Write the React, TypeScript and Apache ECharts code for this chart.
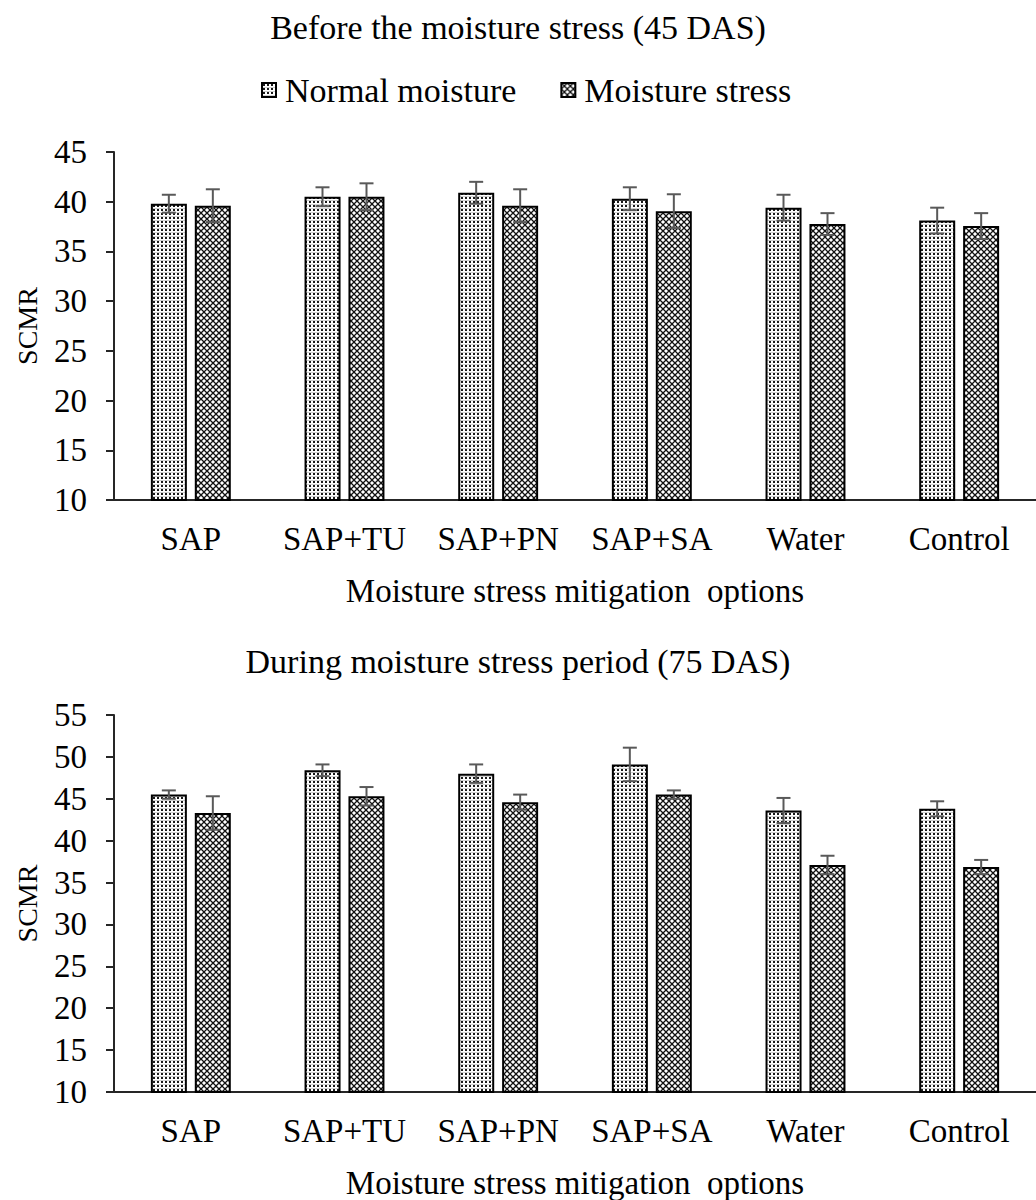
import React, { useEffect, useRef } from "react";
import * as echarts from "echarts";

const categories = ["SAP", "SAP+TU", "SAP+PN", "SAP+SA", "Water", "Control"];
const seriesNames = ["Normal moisture", "Moisture stress"];

const topNormal = [39.8, 40.5, 40.9, 40.3, 39.4, 38.1];
const topNormalErr = [0.9, 0.95, 1.1, 1.15, 1.3, 1.3];
const topStress = [39.6, 40.5, 39.6, 39.05, 37.75, 37.55];
const topStressErr = [1.65, 1.35, 1.65, 1.7, 1.1, 1.3];

const botNormal = [45.5, 48.4, 48.0, 49.1, 43.6, 43.8];
const botNormalErr = [0.5, 0.7, 1.1, 2.0, 1.5, 0.9];
const botStress = [43.3, 45.3, 44.6, 45.5, 37.1, 36.85];
const botStressErr = [2.0, 1.1, 0.9, 0.5, 1.1, 0.85];

const topTitle = "Before the moisture stress (45 DAS)";
const botTitle = "During moisture stress period (75 DAS)";
const xName = "Moisture stress mitigation  options";
const yName = "SCMR";

const FONT = "Liberation Serif";

function makeDotPattern(): string {
  const c = document.createElement("canvas");
  c.width = 4;
  c.height = 4;
  const ctx = c.getContext("2d")!;
  ctx.fillStyle = "#ffffff";
  ctx.fillRect(0, 0, 4, 4);
  ctx.fillStyle = "#d0d0d0";
  ctx.fillRect(0, 0, 4, 1);
  ctx.fillStyle = "#1a1a1a";
  ctx.fillRect(1, 1, 2, 2);
  return c.toDataURL();
}

function makeDiamondPattern(): string {
  const c = document.createElement("canvas");
  c.width = 6;
  c.height = 6;
  const ctx = c.getContext("2d")!;
  ctx.fillStyle = "#ffffff";
  ctx.fillRect(0, 0, 6, 6);
  ctx.strokeStyle = "#111111";
  ctx.lineWidth = 1.3;
  ctx.beginPath();
  ctx.moveTo(-1, -1);
  ctx.lineTo(7, 7);
  ctx.moveTo(7, -1);
  ctx.lineTo(-1, 7);
  ctx.stroke();
  return c.toDataURL();
}

const BAR_W = 36;
const OFFSET = 22;

function errSeries(values: number[], errs: number[], idx: number, dir: number) {
  return {
    type: "custom",
    name: "err" + idx + "_" + dir,
    xAxisIndex: idx,
    yAxisIndex: idx,
    z: 10,
    silent: true,
    data: values.map((v, i) => [i, v, errs[i]]),
    encode: { x: 0, y: 1 },
    renderItem: (params: any, api: any) => {
      const x = api.value(0);
      const v = api.value(1);
      const e = api.value(2);
      const t = api.coord([x, v + e]);
      const b = api.coord([x, v - e]);
      const cx = t[0] + dir * OFFSET;
      const style = { stroke: "#595959", lineWidth: 2 };
      return {
        type: "group",
        children: [
          { type: "line", shape: { x1: cx, y1: t[1], x2: cx, y2: b[1] }, style },
          { type: "line", shape: { x1: cx - 7, y1: t[1], x2: cx + 7, y2: t[1] }, style },
          { type: "line", shape: { x1: cx - 7, y1: b[1], x2: cx + 7, y2: b[1] }, style },
        ],
      };
    },
  };
}

export default function App() {
  const ref = useRef<HTMLDivElement>(null);
  useEffect(() => {
    if (!ref.current) return;
    const chart = echarts.init(ref.current, null, { renderer: "svg" });
    const dot = { image: makeDotPattern(), repeat: "repeat" };
    const dia = { image: makeDiamondPattern(), repeat: "repeat" };

    const grids = [
      { left: 114, top: 152, width: 931, height: 348 },
      { left: 114, top: 715, width: 931, height: 378 },
    ];
    const mkX = (i: number) => ({
      type: "category",
      gridIndex: i,
      data: categories,
      axisLine: { lineStyle: { color: "#262626", width: 2 } },
      axisTick: { show: false },
      axisLabel: { fontFamily: FONT, fontSize: 33, color: "#000", margin: 22, interval: 0 },
      name: xName,
      nameLocation: "middle",
      nameGap: 74,
      nameTextStyle: { fontFamily: FONT, fontSize: 33, color: "#000" },
    });
    const mkY = (i: number, max: number) => ({
      type: "value",
      gridIndex: i,
      min: 10,
      max,
      interval: 5,
      splitLine: { show: false },
      axisLine: { show: true, lineStyle: { color: "#262626", width: 2 } },
      axisTick: { show: true, length: 8, lineStyle: { color: "#262626", width: 2 } },
      axisLabel: { fontFamily: FONT, fontSize: 33, color: "#000", margin: 27 },
      name: yName,
      nameLocation: "middle",
      nameGap: 73,
      nameTextStyle: { fontFamily: FONT, fontSize: 28, color: "#000" },
    });
    const barBase = {
      type: "bar",
      barWidth: BAR_W,
      barGap: "22%",
    };
    const normalStyle = { color: dot, borderColor: "#000", borderWidth: 2 };
    const stressStyle = { color: dia, borderColor: "#000", borderWidth: 2 };

    chart.setOption({
      animation: false,
      backgroundColor: "#fff",
      title: [
        {
          text: topTitle,
          left: "center",
          top: 5,
          textStyle: { fontFamily: FONT, fontSize: 34, fontWeight: "normal", color: "#000" },
        },
        {
          text: botTitle,
          left: "center",
          top: 639,
          textStyle: { fontFamily: FONT, fontSize: 34, fontWeight: "normal", color: "#000" },
        },
      ],
      legend: {
        data: seriesNames,
        left: 256,
        top: 68,
        itemWidth: 14,
        itemHeight: 14,
        itemGap: 44,
        icon: "rect",
        textStyle: { fontFamily: FONT, fontSize: 34, color: "#000", padding: [0, 0, 0, 4] },
      },
      grid: grids,
      xAxis: [mkX(0), mkX(1)],
      yAxis: [mkY(0, 45), mkY(1, 55)],
      series: [
        { ...barBase, name: seriesNames[0], xAxisIndex: 0, yAxisIndex: 0, data: topNormal, itemStyle: normalStyle },
        { ...barBase, name: seriesNames[1], xAxisIndex: 0, yAxisIndex: 0, data: topStress, itemStyle: stressStyle },
        { ...barBase, name: seriesNames[0], xAxisIndex: 1, yAxisIndex: 1, data: botNormal, itemStyle: normalStyle },
        { ...barBase, name: seriesNames[1], xAxisIndex: 1, yAxisIndex: 1, data: botStress, itemStyle: stressStyle },
        errSeries(topNormal, topNormalErr, 0, -1),
        errSeries(topStress, topStressErr, 0, 1),
        errSeries(botNormal, botNormalErr, 1, -1),
        errSeries(botStress, botStressErr, 1, 1),
      ],
    });
    return () => chart.dispose();
  }, []);
  return (
    <div
      ref={ref}
      style={{ position: "absolute", left: 0, top: 0, width: 1036, height: 1200, background: "#fff" }}
    />
  );
}
